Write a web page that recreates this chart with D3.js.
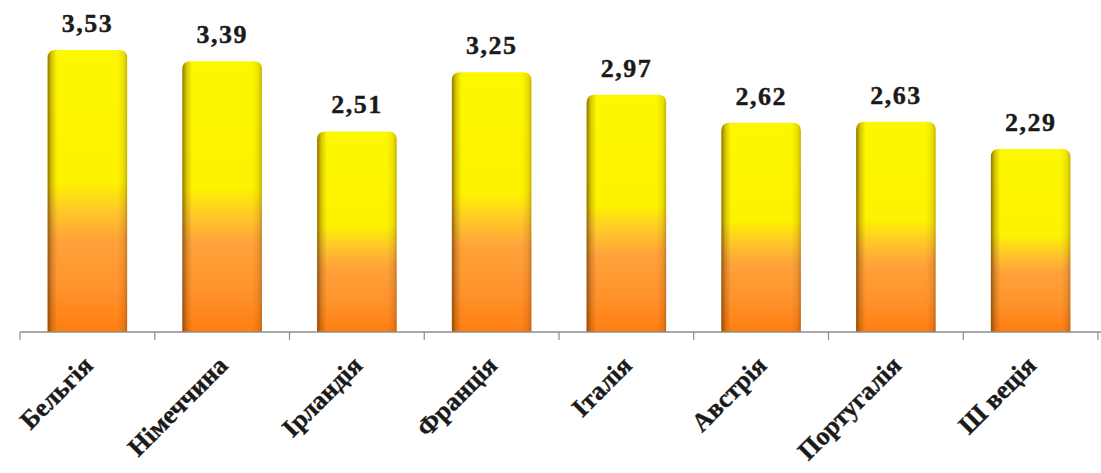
<!DOCTYPE html>
<html>
<head>
<meta charset="utf-8">
<script src="https://cdn.jsdelivr.net/npm/d3@7"></script>
<style>
    body { margin: 0; background: #fff; }
</style>
</head>
<body>
<div id="chart"></div>
<script>
// data
var countries = ["Бельгія", "Німеччина", "Ірландія", "Франція", "Італія", "Австрія", "Португалія", "Ш веція"];
var values = [3.53, 3.39, 2.51, 3.25, 2.97, 2.62, 2.63, 2.29];
var valueLabels = ["3,53", "3,39", "2,51", "3,25", "2,97", "2,62", "2,63", "2,29"];

var width = 1101, height = 473;
var axisY = 332;
var FONT = "'Liberation Serif', 'Times New Roman', Times, serif";

var svg = d3.select("#chart").append("svg")
    .attr("width", width)
    .attr("height", height);

var defs = svg.append("defs");

// vertical yellow -> orange fill, per bar
var vg = defs.append("linearGradient")
    .attr("id", "barFill")
    .attr("x1", 0).attr("y1", 0).attr("x2", 0).attr("y2", 1);
[["0%", "#fcf800"], ["47%", "#fdf200"], ["56%", "#ffcc26"], ["67%", "#ffa33a"], ["85%", "#ff922c"], ["100%", "#ff7e10"]]
    .forEach(function (s) { vg.append("stop").attr("offset", s[0]).attr("stop-color", s[1]); });

// side shading to fake the 3D look
var hg = defs.append("linearGradient")
    .attr("id", "barShade")
    .attr("x1", 0).attr("y1", 0).attr("x2", 1).attr("y2", 0);
[["0%", 0.65], ["5%", 0.25], ["12%", 0], ["88%", 0], ["96%", 0.12], ["100%", 0.35]]
    .forEach(function (s) {
        hg.append("stop").attr("offset", s[0]).attr("stop-color", "#5a2d00").attr("stop-opacity", s[1]);
    });

// category bands (ticks on their edges) and bars inside them
var x = d3.scaleBand()
    .domain(countries)
    .range([20, 1098])
    .padding(0);

var xBar = d3.scaleBand()
    .domain(countries)
    .range([20, 1098])
    .paddingInner(0.41)
    .paddingOuter(0.205);

var y = d3.scaleLinear()
    .domain([0, 4])
    .range([axisY, axisY - 4 * 79.9]);

var data = countries.map(function (c, i) {
    return { name: c, value: values[i], label: valueLabels[i] };
});

// rounded top, square bottom
function barPath(x0, y0, w, h, r) {
    return "M" + x0 + "," + (y0 + h) +
        " V" + (y0 + r) +
        " Q" + x0 + "," + y0 + " " + (x0 + r) + "," + y0 +
        " H" + (x0 + w - r) +
        " Q" + (x0 + w) + "," + y0 + " " + (x0 + w) + "," + (y0 + r) +
        " V" + (y0 + h) + " Z";
}

var bars = svg.append("g").selectAll("g.bar")
    .data(data)
    .enter().append("g")
    .attr("class", "bar");

bars.append("path")
    .attr("d", function (d) {
        return barPath(xBar(d.name), y(d.value), xBar.bandwidth(), axisY - y(d.value), 8);
    })
    .attr("fill", "url(#barFill)");

bars.append("path")
    .attr("d", function (d) {
        return barPath(xBar(d.name), y(d.value), xBar.bandwidth(), axisY - y(d.value), 8);
    })
    .attr("fill", "url(#barShade)");

// value labels
bars.append("text")
    .attr("x", function (d) { return xBar(d.name) + xBar.bandwidth() / 2; })
    .attr("y", function (d) { return y(d.value) - 18; })
    .attr("text-anchor", "middle")
    .attr("font-family", FONT)
    .attr("font-weight", "bold")
    .attr("font-size", 26)
    .attr("letter-spacing", 1.5)
    .attr("fill", "#1a1a1a")
    .attr("stroke", "#1a1a1a")
    .attr("stroke-width", 0.4)
    .text(function (d) { return d.label; });

// axis: base line with ticks on the category edges
var axis = svg.append("g");
axis.append("line")
    .attr("x1", 20).attr("x2", width)
    .attr("y1", axisY).attr("y2", axisY)
    .attr("stroke", "#8c8c8c")
    .attr("stroke-width", 1.5);

var edges = countries.map(function (c) { return x(c); }).concat([x(countries[countries.length - 1]) + x.bandwidth()]);
axis.selectAll("line.tick")
    .data(edges)
    .enter().append("line")
    .attr("class", "tick")
    .attr("x1", function (d) { return d; })
    .attr("x2", function (d) { return d; })
    .attr("y1", axisY)
    .attr("y2", axisY + 8)
    .attr("stroke", "#8c8c8c")
    .attr("stroke-width", 1.2);

// rotated category labels
axis.selectAll("text.cat")
    .data(countries)
    .enter().append("text")
    .attr("class", "cat")
    .attr("text-anchor", "end")
    .attr("transform", function (d) {
        return "translate(" + (x(d) + x.bandwidth() / 2 + 7) + "," + (axisY + 35) + ") rotate(-45)";
    })
    .attr("font-family", FONT)
    .attr("font-weight", "bold")
    .attr("font-size", 26)
    .attr("fill", "#1a1a1a")
    .attr("stroke", "#1a1a1a")
    .attr("stroke-width", 0.4)
    .text(function (d) { return d; });
</script>
</body>
</html>
